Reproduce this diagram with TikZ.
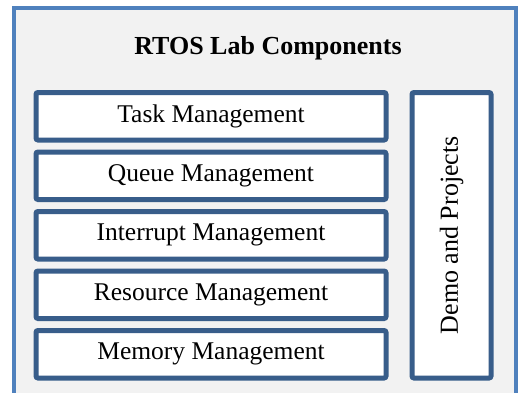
\documentclass[tikz,border=0pt]{standalone}
\usepackage{fontspec}
\setmainfont{Liberation Serif}
\usetikzlibrary{positioning}

\definecolor{frameblue}{HTML}{4F81BD}
\definecolor{boxblue}{HTML}{385D8A}
\definecolor{panelgray}{HTML}{F2F2F2}

\begin{document}
\begin{tikzpicture}[x=1pt,y=1pt,
  part/.style={draw=boxblue,line width=5pt,fill=white,rounded corners=2pt,
    minimum width=350pt,minimum height=47.5pt,inner sep=0pt,
    font=\fontsize{25.5}{30}\selectfont},
  side/.style={part,rotate=90,minimum width=285.5pt,minimum height=79pt,
    font=\fontsize{26}{30}\selectfont}]

\useasboundingbox (0,0) rectangle (518,392);
\clip (0,0) rectangle (518,392);

\draw[frameblue,line width=4pt,fill=panelgray] (13.5,383.5) rectangle (515.5,-10);
\node (title) at (268,344) {\fontsize{26}{30}\selectfont\bfseries RTOS Lab Components};

\node[part] (task) at (211,275.75) {Task Management};
\node[part,below=7pt of task] (queue) {Queue Management};
\node[part,below=7pt of queue] (interrupt) {Interrupt Management};
\node[part,below=7pt of interrupt] (resource) {Resource Management};
\node[part,below=7pt of resource] (memory) {Memory Management};

\node[side] (demo) at (451.5,156.75) {Demo and Projects};

\end{tikzpicture}
\end{document}
